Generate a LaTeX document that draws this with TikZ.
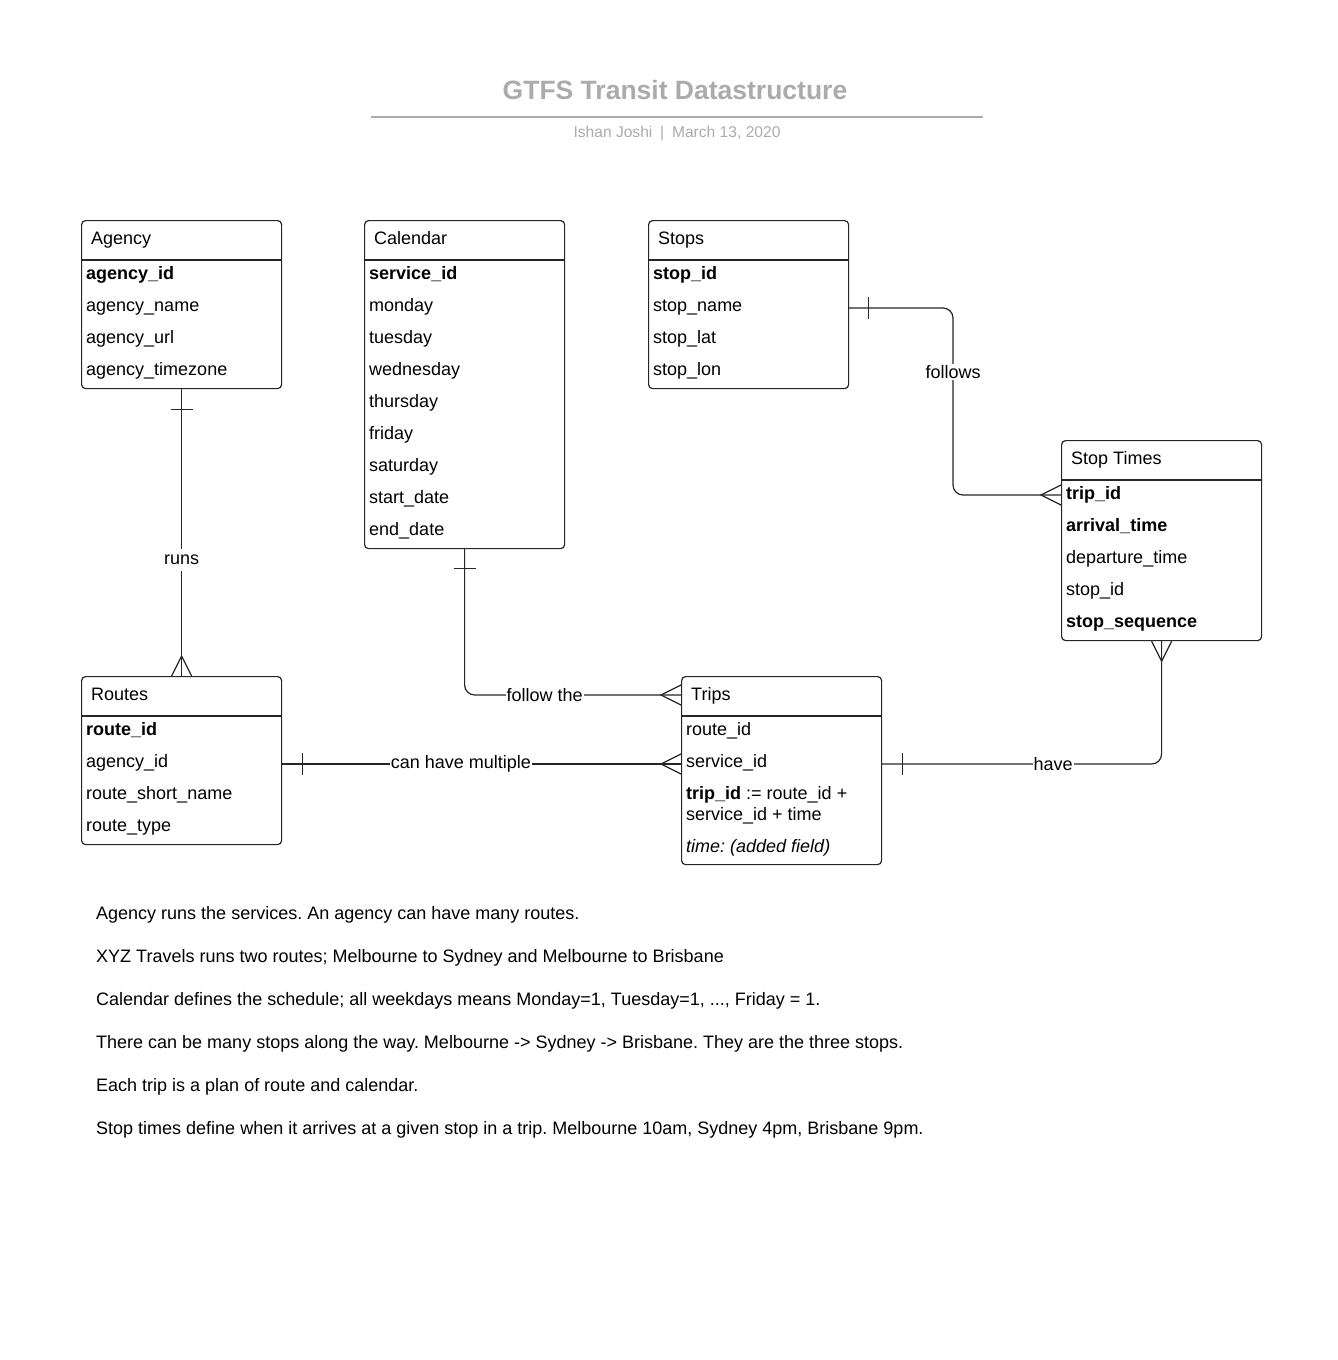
\documentclass[tikz,border=0pt]{standalone}
\usepackage{fontspec}
\setmainfont{Liberation Sans}
\frenchspacing
\begin{document}
\begin{tikzpicture}[x=1pt,y=-1pt,
  ent/.style={draw=black!85, line width=1.2pt, rounded corners=4pt, anchor=north west, inner sep=0pt, minimum width=200pt},
  fld/.style={anchor=base west, inner sep=0pt, font=\fontsize{18}{21}\selectfont},
  conn/.style={draw=black!85, line width=1.2pt},
  lbl/.style={fill=white, inner sep=1pt, font=\fontsize{18}{21}\selectfont},
  hline/.style={draw=black!85, line width=1.2pt}]
\useasboundingbox (0,0) rectangle (1338,1360);
% title
\node[font=\bfseries\fontsize{26.5}{30}\selectfont, text=black!33] (title) at (675,90) {GTFS Transit Datastructure};
\coordinate (tl) at (371,117);
\coordinate (tr) at (983,117);
\draw[black!33, line width=2pt] (tl) -- (tr);
\node[font=\fontsize{15.6}{18}\selectfont, text=black!33] (sub) at (677,133.5) {Ishan Joshi\enspace|\enspace March 13, 2020};

% Agency
\node[ent, minimum height=168pt] (agency) at (81,220) {};
\draw[hline] ([yshift=-40pt]agency.north west) -- ([yshift=-40pt]agency.north east);
\node[fld] (agencyh) at (91,244) {Agency};
\node[fld] (agency1) at (86,279.5) {\textbf{agency\_id}};
\node[fld] (agency2) at (86,311.5) {agency\_name};
\node[fld] (agency3) at (86,343.5) {agency\_url};
\node[fld] (agency4) at (86,375.5) {agency\_timezone};

% Calendar
\node[ent, minimum height=328pt] (calendar) at (364,220) {};
\draw[hline] ([yshift=-40pt]calendar.north west) -- ([yshift=-40pt]calendar.north east);
\node[fld] (calh) at (374,244) {Calendar};
\node[fld] (cal1) at (369,279.5) {\textbf{service\_id}};
\node[fld] (cal2) at (369,311.5) {monday};
\node[fld] (cal3) at (369,343.5) {tuesday};
\node[fld] (cal4) at (369,375.5) {wednesday};
\node[fld] (cal5) at (369,407.5) {thursday};
\node[fld] (cal6) at (369,439.5) {friday};
\node[fld] (cal7) at (369,471.5) {saturday};
\node[fld] (cal8) at (369,503.5) {start\_date};
\node[fld] (cal9) at (369,535.5) {end\_date};

% Stops
\node[ent, minimum height=168pt] (stops) at (648,220) {};
\draw[hline] ([yshift=-40pt]stops.north west) -- ([yshift=-40pt]stops.north east);
\node[fld] (stopsh) at (658,244) {Stops};
\node[fld] (stops1) at (653,279.5) {\textbf{stop\_id}};
\node[fld] (stops2) at (653,311.5) {stop\_name};
\node[fld] (stops3) at (653,343.5) {stop\_lat};
\node[fld] (stops4) at (653,375.5) {stop\_lon};

% Stop Times
\node[ent, minimum height=200pt] (stoptimes) at (1061,440) {};
\draw[hline] ([yshift=-40pt]stoptimes.north west) -- ([yshift=-40pt]stoptimes.north east);
\node[fld] (sth) at (1071,464) {Stop Times};
\node[fld] (st1) at (1066,499.5) {\textbf{trip\_id}};
\node[fld] (st2) at (1066,531.5) {\textbf{arrival\_time}};
\node[fld] (st3) at (1066,563.5) {departure\_time};
\node[fld] (st4) at (1066,595.5) {stop\_id};
\node[fld] (st5) at (1066,627.5) {\textbf{stop\_sequence}};

% Routes
\node[ent, minimum height=168pt] (routes) at (81,676) {};
\draw[hline] ([yshift=-40pt]routes.north west) -- ([yshift=-40pt]routes.north east);
\node[fld] (routesh) at (91,700) {Routes};
\node[fld] (routes1) at (86,735.5) {\textbf{route\_id}};
\node[fld] (routes2) at (86,767.5) {agency\_id};
\node[fld] (routes3) at (86,799.5) {route\_short\_name};
\node[fld] (routes4) at (86,831.5) {route\_type};

% Trips
\node[ent, minimum height=188pt] (trips) at (681,676) {};
\draw[hline] ([yshift=-40pt]trips.north west) -- ([yshift=-40pt]trips.north east);
\node[fld] (tripsh) at (691,700) {Trips};
\node[fld] (trips1) at (686,735.5) {route\_id};
\node[fld] (trips2) at (686,767.5) {service\_id};
\node[fld] (trips3) at (686,799.5) {\textbf{trip\_id} := route\_id +};
\node[fld] (trips3b) at (686,820.5) {service\_id + time};
\node[fld] (trips4) at (686,852.5) {\textit{time: (added field)}};

% runs: Agency -> Routes
\path (agency.south) -- node[lbl, pos=0.595, minimum height=22pt] (runslbl) {runs} (routes.north);
\draw[conn] (agency.south) -- (runslbl.north);
\draw[conn] (runslbl.south) -- (routes.north);
\draw[conn] ([xshift=-11pt,yshift=-20pt]agency.south) -- ([xshift=11pt,yshift=-20pt]agency.south);
\draw[conn] ([xshift=-10pt]routes.north) -- ([yshift=20pt]routes.north) -- ([xshift=10pt]routes.north);

% follow the: Calendar -> Trips
\draw[conn, rounded corners=10pt] (calendar.south) |- ([yshift=-19pt]trips.north west);
\path (calendar.south) |- node[lbl, pos=0.685] (followlbl) {follow the} ([yshift=-19pt]trips.north west);
\draw[conn] ([xshift=-11pt,yshift=-19pt]calendar.south) -- ([xshift=11pt,yshift=-19pt]calendar.south);
\draw[conn] ([yshift=-9pt]trips.north west) -- ([xshift=-20pt,yshift=-19pt]trips.north west) -- ([yshift=-29pt]trips.north west);

% can have multiple: Routes -> Trips
\draw[conn] ([yshift=-88pt]routes.north east) -- ([yshift=-88pt]trips.north west);
\path ([yshift=-88pt]routes.north east) -- node[lbl, pos=0.448] (multlbl) {can have multiple} ([yshift=-88pt]trips.north west);
\draw[conn] ([xshift=20pt,yshift=-77pt]routes.north east) -- ([xshift=20pt,yshift=-99pt]routes.north east);
\draw[conn] ([yshift=-78pt]trips.north west) -- ([xshift=-20pt,yshift=-88pt]trips.north west) -- ([yshift=-98pt]trips.north west);

% follows: Stops -> Stop Times
\coordinate (fbend) at (953,308);
\draw[conn, rounded corners=10pt] ([yshift=-88pt]stops.north east) -- (fbend) |- ([yshift=-55pt]stoptimes.north west);
\path (fbend) |- node[lbl, pos=0.171] (followslbl) {follows} ([yshift=-55pt]stoptimes.north west);
\draw[conn] ([xshift=19pt,yshift=-77pt]stops.north east) -- ([xshift=19pt,yshift=-99pt]stops.north east);
\draw[conn] ([yshift=-45pt]stoptimes.north west) -- ([xshift=-20pt,yshift=-55pt]stoptimes.north west) -- ([yshift=-65pt]stoptimes.north west);

% have: Trips -> Stop Times
\draw[conn, rounded corners=10pt] ([yshift=-88pt]trips.north east) -| (stoptimes.south);
\path ([yshift=-88pt]trips.north east) -| node[lbl, pos=0.306] (havelbl) {have} (stoptimes.south);
\draw[conn] ([xshift=20pt,yshift=-77pt]trips.north east) -- ([xshift=20pt,yshift=-99pt]trips.north east);
\draw[conn] ([xshift=-10pt]stoptimes.south) -- ([yshift=-20pt]stoptimes.south) -- ([xshift=10pt]stoptimes.south);

% notes
\node[fld] (n1) at (96,919.5) {Agency runs the services. An agency can have many routes.};
\node[fld] (n2) at (96,962.5) {XYZ Travels runs two routes; Melbourne to Sydney and Melbourne to Brisbane};
\node[fld] (n3) at (96,1005.5) {Calendar defines the schedule; all weekdays means Monday=1, Tuesday=1, ..., Friday = 1.};
\node[fld] (n4) at (96,1048.5) {There can be many stops along the way. Melbourne -> Sydney -> Brisbane. They are the three stops.};
\node[fld] (n5) at (96,1091.5) {Each trip is a plan of route and calendar.};
\node[fld] (n6) at (96,1134.5) {Stop times define when it arrives at a given stop in a trip. Melbourne 10am, Sydney 4pm, Brisbane 9pm.};
\end{tikzpicture}
\end{document}
